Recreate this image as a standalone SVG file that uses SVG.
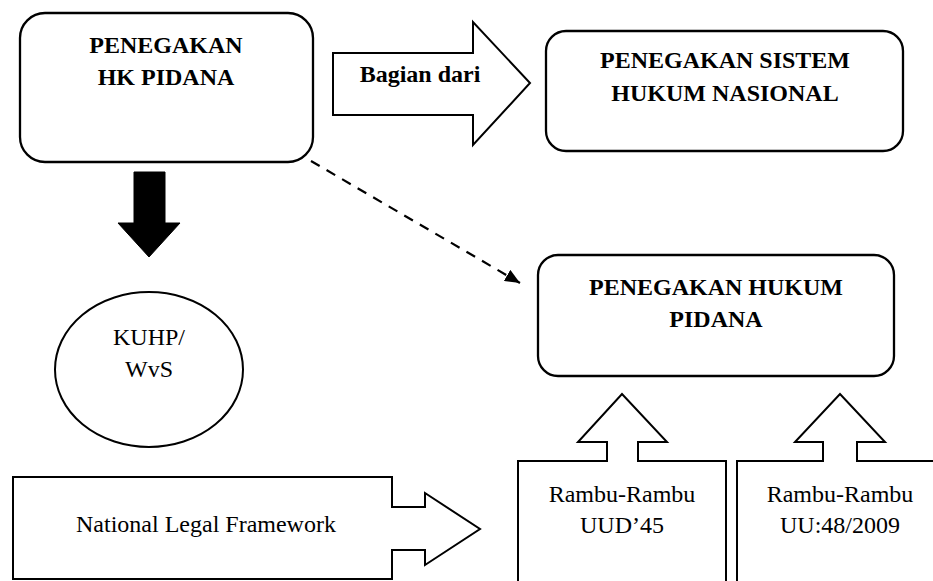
<svg xmlns="http://www.w3.org/2000/svg" width="933" height="581" viewBox="0 0 933 581">
<style>
.box{fill:#fff;stroke:#000;stroke-width:2.3}
.shape{fill:#fff;stroke:#000;stroke-width:2;stroke-linejoin:miter}
text{font-family:'Liberation Serif','Times New Roman','DejaVu Serif',serif;font-size:24px;fill:#000;text-anchor:middle}
.b{font-weight:bold}
.dash{fill:none;stroke:#000;stroke-width:2.2;stroke-dasharray:10 8}
</style>
<defs>
<marker id="head" markerUnits="userSpaceOnUse" markerWidth="16" markerHeight="13" refX="15" refY="6.5" orient="auto">
<path d="M0,0 L15,6.5 L0,13 z" fill="#000"/>
</marker>
</defs>
<rect width="933" height="581" fill="#fff"/>

<g id="connectors">
<path class="dash" d="M311,161 L520,283" marker-end="url(#head)"/>
<polygon id="down-arrow" points="134,172 165,172 165,223 180,223 149,257 118,223 134,223" fill="#000" stroke="#000" stroke-width="1"/>
</g>

<g id="node-penegakan-hk-pidana">
<rect class="box" x="20" y="13" width="293" height="149" rx="25" ry="25"/>
<text class="b" x="166" y="53" font-family="Liberation Serif, serif">PENEGAKAN</text>
<text class="b" x="166" y="85" font-family="Liberation Serif, serif">HK PIDANA</text>
</g>

<g id="node-bagian-dari">
<polygon class="shape" points="333,53 473,53 473,22 530,83 473,145 473,115 333,115"/>
<text class="b" x="420" y="82" font-family="Liberation Serif, serif">Bagian dari</text>
</g>

<g id="node-sistem-hukum">
<rect class="box" x="546" y="31" width="357" height="120" rx="20" ry="20"/>
<text class="b" x="725" y="68" font-family="Liberation Serif, serif">PENEGAKAN SISTEM</text>
<text class="b" x="725" y="101" font-family="Liberation Serif, serif">HUKUM NASIONAL</text>
</g>

<g id="node-hukum-pidana">
<rect class="box" x="538" y="255" width="356" height="121" rx="20" ry="20"/>
<text class="b" x="716" y="295" font-family="Liberation Serif, serif">PENEGAKAN HUKUM</text>
<text class="b" x="716" y="327" font-family="Liberation Serif, serif">PIDANA</text>
</g>

<g id="node-kuhp">
<ellipse class="shape" cx="149" cy="369.5" rx="94" ry="77.5"/>
<text x="149" y="345" font-family="Liberation Serif, serif">KUHP/</text>
<text x="149" y="377" font-family="Liberation Serif, serif">WvS</text>
</g>

<g id="node-national">
<polygon class="shape" points="13,477 392,477 392,507 425,507 425,493 480,529 425,565 425,550 392,550 392,579 13,579"/>
<text x="206" y="532" font-family="Liberation Serif, serif">National Legal Framework</text>
</g>

<g id="node-uud45">
<polygon class="shape" points="518,590 518,461 607,461 607,442 578,442 622,394 667,442 638,442 638,461 726,461 726,590"/>
<text x="622" y="502" font-family="Liberation Serif, serif">Rambu-Rambu</text>
<text x="622" y="533" font-family="Liberation Serif, serif">UUD’45</text>
</g>

<g id="node-uu48">
<polygon class="shape" points="737,590 737,461 823,461 823,442 795,442 840,394 885,442 857,442 857,461 945,461 945,590"/>
<text x="840" y="502" font-family="Liberation Serif, serif">Rambu-Rambu</text>
<text x="840" y="533" font-family="Liberation Serif, serif">UU:48/2009</text>
</g>
</svg>
